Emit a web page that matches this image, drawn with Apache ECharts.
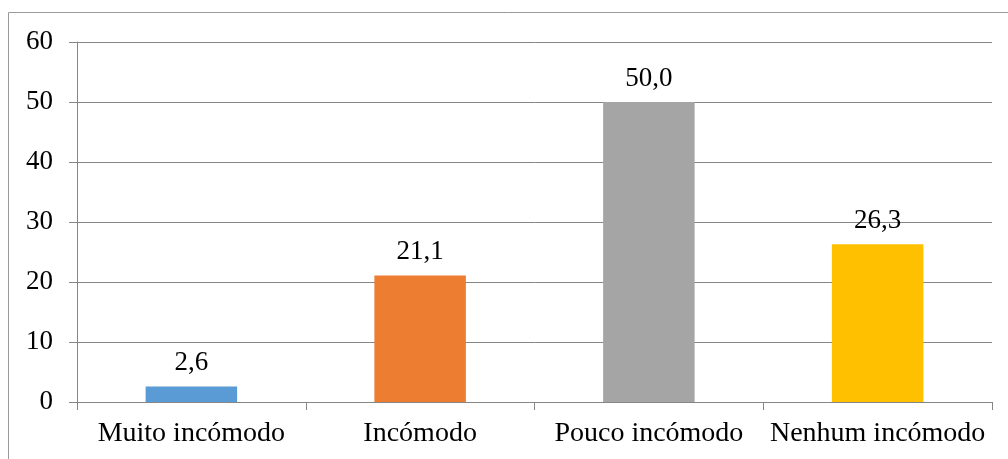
<!DOCTYPE html>
<html>
<head>
<meta charset="utf-8">
<script src="https://cdn.jsdelivr.net/npm/echarts@6/dist/echarts.min.js"></script>
<style>
  html, body { margin: 0; padding: 0; background: #fff; }
  #chart { width: 1008px; height: 459px; }
</style>
</head>
<body>
<div id="chart"></div>
<script>
// Categories, values and bar colours
const categories = ['Muito incómodo', 'Incómodo', 'Pouco incómodo', 'Nenhum incómodo'];
const values = [2.6, 21.1, 50.0, 26.3];
const barColors = ['#5B9BD5', '#ED7D31', '#A5A5A5', '#FFC000'];
const yTicks = { min: 0, max: 60, interval: 10 };

const FONT = '"Liberation Serif", "Times New Roman", serif';
const AXIS_COLOR = '#868686';

const chart = echarts.init(document.getElementById('chart'), null, { renderer: 'canvas' });

chart.setOption({
  animation: false,
  backgroundColor: '#ffffff',
  graphic: [{
    type: 'rect',
    shape: { x: 8.5, y: 12.5, width: 1100, height: 600 },
    style: { fill: 'none', stroke: '#9a9a9a', lineWidth: 1 },
    silent: true
  }],
  grid: { left: 77, right: 16, top: 42, bottom: 57, containLabel: false },
  xAxis: {
    type: 'category',
    data: categories,
    boundaryGap: true,
    axisLine: { show: true, lineStyle: { color: AXIS_COLOR, width: 1 } },
    axisTick: { show: true, length: 8, alignWithLabel: false, lineStyle: { color: AXIS_COLOR } },
    axisLabel: { color: '#000', fontFamily: FONT, fontSize: 28, margin: 18, interval: 0 }
  },
  yAxis: {
    type: 'value',
    min: yTicks.min,
    max: yTicks.max,
    interval: yTicks.interval,
    axisLine: { show: true, lineStyle: { color: AXIS_COLOR, width: 1 } },
    axisTick: { show: true, length: 8, lineStyle: { color: AXIS_COLOR } },
    splitLine: { show: true, lineStyle: { color: AXIS_COLOR, width: 1 } },
    axisLabel: { color: '#000', fontFamily: FONT, fontSize: 27, margin: 24 }
  },
  series: [{
    type: 'bar',
    data: values.map((v, i) => ({ value: v, itemStyle: { color: barColors[i] } })),
    barWidth: '40%',
    label: {
      show: true,
      position: 'top',
      distance: 10,
      color: '#000',
      fontFamily: FONT,
      fontSize: 27,
      formatter: p => p.value.toFixed(1).replace('.', ',')
    }
  }]
});
</script>
</body>
</html>
